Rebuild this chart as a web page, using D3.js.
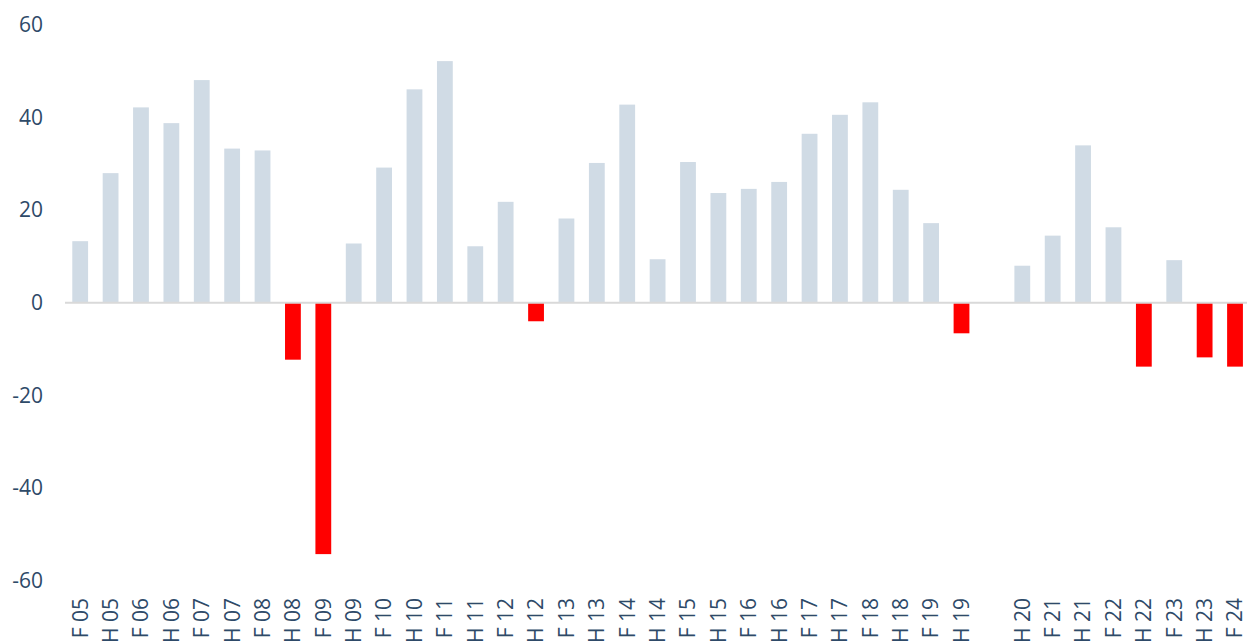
<!DOCTYPE html>
<html>
<head>
<meta charset="utf-8">
<script src="https://cdn.jsdelivr.net/npm/d3@7"></script>
<style>
  html, body { margin: 0; padding: 0; background: #ffffff; overflow: hidden; }
  svg { display: block; }
  .tick text { font-family: "Open Sans", "Noto Sans", sans-serif; fill: #2e4a68; }
</style>
</head>
<body>
<svg id="chart" width="1247" height="642"></svg>
<script>
// Half-year periods (F = first half, H = second half); one period has no value
const periods = [
  "F 05", "H 05", "F 06", "H 06", "F 07", "H 07", "F 08", "H 08", "F 09", "H 09",
  "F 10", "H 10", "F 11", "H 11", "F 12", "H 12", "F 13", "H 13", "F 14", "H 14",
  "F 15", "H 15", "F 16", "H 16", "F 17", "H 17", "F 18", "H 18", "F 19", "H 19",
  "", "H 20", "F 21", "H 21", "F 22", "H 22", "F 23", "H 23", "F 24"
];
const values = [
  13.3, 28.0, 42.2, 38.8, 48.1, 33.3, 32.9, -12.3, -54.3, 12.8,
  29.2, 46.1, 52.2, 12.2, 21.8, -4.0, 18.2, 30.2, 42.8, 9.4,
  30.4, 23.7, 24.6, 26.1, 36.5, 40.6, 43.3, 24.4, 17.2, -6.6,
  null, 8.0, 14.5, 34.0, 16.3, -13.8, 9.2, -11.8, -13.8
];
const yTicks = [-60, -40, -20, 0, 20, 40, 60];

const svg = d3.select("#chart");

const x = d3.scaleBand()
  .domain(d3.range(periods.length))
  .range([65, 65 + 30.39 * periods.length])
  .paddingInner(0.48)
  .paddingOuter(0.24);

const y = d3.scaleLinear()
  .domain([-60, 60])
  .range([580.5, 25]);

// Y axis labels, no line or ticks; plain hyphen for negatives
const yAxis = svg.append("g")
  .attr("transform", "translate(43,0)")
  .call(d3.axisLeft(y).tickValues(yTicks).tickFormat(d => String(d)).tickSize(0).tickPadding(0))
  .call(g => g.select(".domain").remove());
yAxis.selectAll("text").style("font-size", "21px");

// Bars: positive values in grey-blue, negatives in red
const data = periods.map((p, i) => ({ i, p, v: values[i] })).filter(d => d.v !== null);
svg.append("g")
  .selectAll("rect")
  .data(data)
  .join("rect")
  .attr("x", d => x(d.i))
  .attr("width", x.bandwidth())
  .attr("y", d => y(Math.max(0, d.v)))
  .attr("height", d => Math.abs(y(d.v) - y(0)))
  .attr("fill", d => d.v < 0 ? "#ff0000" : "#d0dbe5");

// Zero baseline
svg.append("line")
  .attr("x1", 65).attr("x2", 1247)
  .attr("y1", y(0)).attr("y2", y(0))
  .attr("stroke", "#d9d9d9")
  .attr("stroke-width", 2);

// Rotated period labels along the bottom
const xAxis = svg.append("g")
  .attr("transform", "translate(0,598)")
  .call(d3.axisBottom(x).tickFormat(i => periods[i]).tickSize(0).tickPadding(0))
  .call(g => g.select(".domain").remove());
xAxis.selectAll("text")
  .style("font-size", "21px")
  .attr("text-anchor", "end")
  .attr("transform", "rotate(-90)")
  .attr("x", 0)
  .attr("y", 0)
  .attr("dy", "0.35em");
</script>
</body>
</html>
